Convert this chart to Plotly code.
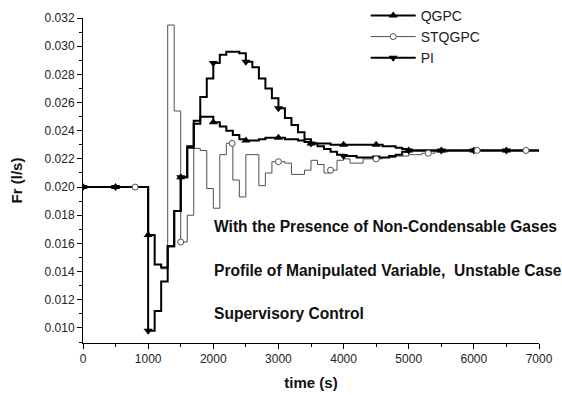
import bisect
import plotly.graph_objects as go

# ---------------- data ----------------
time_s = [0, 100, 200, 300, 400, 500, 600, 700, 800, 900,
          1000, 1100, 1200, 1300, 1400, 1500, 1600, 1700, 1800, 1900,
          2000, 2100, 2200, 2300, 2400, 2500, 2600, 2700, 2800, 2900,
          3000, 3100, 3200, 3300, 3400, 3500, 3600, 3700, 3800, 3900,
          4000, 4100, 4200, 4300, 4400, 4500, 4600, 4700, 4800, 4900,
          5000, 5100, 5200, 5300, 5400, 5500, 5600, 5700, 5800, 5900,
          6000, 6100, 6200, 6300, 6400, 6500, 6600, 6700, 6800, 6900,
          7000]

qgpc_flow = [0.0200, 0.0200, 0.0200, 0.0200, 0.0200, 0.0200, 0.0200, 0.0200, 0.0200, 0.0200,
             0.0166, 0.0145, 0.0143, 0.0158, 0.0183, 0.0207, 0.0228, 0.0245, 0.0250, 0.0250,
             0.0246, 0.0243, 0.0240, 0.0237, 0.0234, 0.0233, 0.0233, 0.0234, 0.0235, 0.0235,
             0.0235, 0.0234, 0.0234, 0.0233, 0.0232, 0.0231, 0.0231, 0.0231, 0.0230, 0.0230,
             0.0230, 0.0230, 0.0230, 0.0230, 0.0230, 0.0230, 0.0229, 0.0229, 0.0228, 0.0227,
             0.0226, 0.0226, 0.0226, 0.0226, 0.0226, 0.0226, 0.0226, 0.0226, 0.0226, 0.0226,
             0.0226, 0.0226, 0.0226, 0.0226, 0.0226, 0.0226, 0.0226, 0.0226, 0.0226, 0.0226,
             0.0226]

stqgpc_flow = [0.0200, 0.0200, 0.0200, 0.0200, 0.0200, 0.0200, 0.0200, 0.0200, 0.0200, 0.0200,
               0.0166, 0.0145, 0.0142, 0.0315, 0.0254, 0.0161, 0.0180, 0.02275, 0.0226, 0.0199,
               0.0185, 0.0223, 0.0231, 0.0205, 0.0193, 0.0223, 0.0223, 0.0201, 0.0210, 0.0218,
               0.0218, 0.0217, 0.0209, 0.0209, 0.0212, 0.0219, 0.0216, 0.0210, 0.0212, 0.0219,
               0.0220, 0.0217, 0.0217, 0.0220, 0.0220, 0.0220, 0.0221, 0.0221, 0.0222, 0.0222,
               0.0223, 0.0223, 0.0224, 0.0224, 0.0225, 0.0225, 0.0226, 0.0226, 0.0226, 0.0226,
               0.0226, 0.0226, 0.0226, 0.0226, 0.0226, 0.0226, 0.0226, 0.0226, 0.0226, 0.0226,
               0.0226]

pi_flow = [0.0200, 0.0200, 0.0200, 0.0200, 0.0200, 0.0200, 0.0200, 0.0200, 0.0200, 0.0200,
           0.0098, 0.0112, 0.0133, 0.0158, 0.0183, 0.0207, 0.0229, 0.0247, 0.0264, 0.0277,
           0.0288, 0.0294, 0.0296, 0.0296, 0.0295, 0.0289, 0.0285, 0.0277, 0.0270, 0.0263,
           0.0256, 0.0249, 0.0244, 0.0239, 0.0234, 0.0231, 0.0229, 0.0227, 0.0225, 0.0223,
           0.0222, 0.0222, 0.0221, 0.0221, 0.0221, 0.0221, 0.0221, 0.0222, 0.0223, 0.0225,
           0.0226, 0.0226, 0.0226, 0.0226, 0.0226, 0.0226, 0.0226, 0.0226, 0.0226, 0.0226,
           0.0226, 0.0226, 0.0226, 0.0226, 0.0226, 0.0226, 0.0226, 0.0226, 0.0226, 0.0226,
           0.0226]

qgpc_marker_times = [0, 500, 1000, 1500, 2000, 2500, 3000, 3500, 4000, 4500, 5000, 5500, 6000, 6500]
pi_marker_times = [0, 500, 1000, 1500, 2000, 2500, 3000, 3500, 4000, 4500, 5000, 5500, 6000, 6500]
stqgpc_marker_times = [800, 1500, 2290, 3000, 3800, 4500, 5300, 6050, 6800]

x_ticks = [0, 1000, 2000, 3000, 4000, 5000, 6000, 7000]
y_ticks = [0.010, 0.012, 0.014, 0.016, 0.018, 0.020, 0.022, 0.024, 0.026, 0.028, 0.030, 0.032]

notes = ["With the Presence of Non-Condensable Gases",
         "Profile of Manipulated Variable,  Unstable Case",
         "Supervisory Control"]


def step_value(values, t):
    i = bisect.bisect_right(time_s, t) - 1
    return values[i]


FONT = "Liberation Sans, Arial, sans-serif"
BLACK = "#000000"
GREY = "#505050"

fig = go.Figure()

# lines
fig.add_trace(go.Scatter(x=time_s, y=stqgpc_flow, mode="lines", line_shape="hv",
                         line=dict(color=GREY, width=1), showlegend=False, hoverinfo="skip"))
fig.add_trace(go.Scatter(x=time_s, y=qgpc_flow, mode="lines", line_shape="hv",
                         line=dict(color=BLACK, width=2), showlegend=False, hoverinfo="skip"))
fig.add_trace(go.Scatter(x=time_s, y=pi_flow, mode="lines", line_shape="hv",
                         line=dict(color=BLACK, width=2), showlegend=False, hoverinfo="skip"))

# markers
fig.add_trace(go.Scatter(x=qgpc_marker_times, y=[step_value(qgpc_flow, t) for t in qgpc_marker_times],
                         mode="markers", marker=dict(symbol="triangle-up", size=8, color=BLACK),
                         showlegend=False, hoverinfo="skip"))
fig.add_trace(go.Scatter(x=pi_marker_times, y=[step_value(pi_flow, t) for t in pi_marker_times],
                         mode="markers", marker=dict(symbol="triangle-down", size=8, color=BLACK),
                         showlegend=False, hoverinfo="skip"))
fig.add_trace(go.Scatter(x=stqgpc_marker_times, y=[step_value(stqgpc_flow, t) for t in stqgpc_marker_times],
                         mode="markers", marker=dict(symbol="circle", size=6, color="white",
                                                     line=dict(color=GREY, width=1)),
                         showlegend=False, hoverinfo="skip"))

# legend entries
fig.add_trace(go.Scatter(x=[None], y=[None], mode="lines+markers", name="QGPC", legendgroup="a",
                         line=dict(color=BLACK, width=2),
                         marker=dict(symbol="triangle-up", size=8, color=BLACK)))
fig.add_trace(go.Scatter(x=[None], y=[None], mode="lines+markers", name="STQGPC", legendgroup="b",
                         line=dict(color=GREY, width=1),
                         marker=dict(symbol="circle", size=6, color="white", line=dict(color=GREY, width=1))))
fig.add_trace(go.Scatter(x=[None], y=[None], mode="lines+markers", name="PI", legendgroup="c",
                         line=dict(color=BLACK, width=2),
                         marker=dict(symbol="triangle-down", size=8, color=BLACK)))

for txt, yv in zip(notes, [0.01718, 0.0141, 0.01104]):
    fig.add_annotation(x=1980, y=yv, xref="x", yref="y", text="<b>" + txt + "</b>",
                       showarrow=False, xanchor="left", yanchor="middle",
                       font=dict(family=FONT, size=15.6, color="#111"))

fig.update_layout(
    width=562, height=395,
    margin=dict(l=83, r=23, t=18, b=52, autoexpand=False),
    paper_bgcolor="white", plot_bgcolor="white",
    font=dict(family=FONT, color="#222"),
    legend=dict(x=0.62, y=1.056, xanchor="left", yanchor="top",
                font=dict(family=FONT, size=14, color="#222"),
                bgcolor="rgba(0,0,0,0)", tracegroupgap=0, itemwidth=45),
    showlegend=True,
    hovermode=False,
)

fig.update_xaxes(range=[0, 7000], tickvals=x_ticks, ticktext=[str(v) for v in x_ticks],
                 showline=True, linecolor=BLACK, linewidth=1, showgrid=False, zeroline=False,
                 ticks="outside", ticklen=5, tickcolor=BLACK,
                 minor=dict(dtick=500, tick0=0, ticks="outside", ticklen=3, tickcolor=BLACK, showgrid=False),
                 tickfont=dict(family=FONT, size=12, color="#222"),
                 title=dict(text="<b>time (s)</b>", font=dict(family=FONT, size=15, color="#111"), standoff=12))
fig.update_yaxes(range=[0.008934, 0.032], tickvals=y_ticks, ticktext=["%.3f" % v for v in y_ticks],
                 showline=True, linecolor=BLACK, linewidth=1, showgrid=False, zeroline=False,
                 ticks="outside", ticklen=5, tickcolor=BLACK,
                 minor=dict(dtick=0.001, tick0=0.0, ticks="outside", ticklen=3, tickcolor=BLACK, showgrid=False),
                 tickfont=dict(family=FONT, size=12, color="#222"),
                 title=dict(text="<b>Fr (l/s)</b>", font=dict(family=FONT, size=15, color="#111"), standoff=18))

fig.write_html("out.html", config={"displayModeBar": False},
               post_script="document.body.style.margin='0';document.body.style.overflow='hidden';")
